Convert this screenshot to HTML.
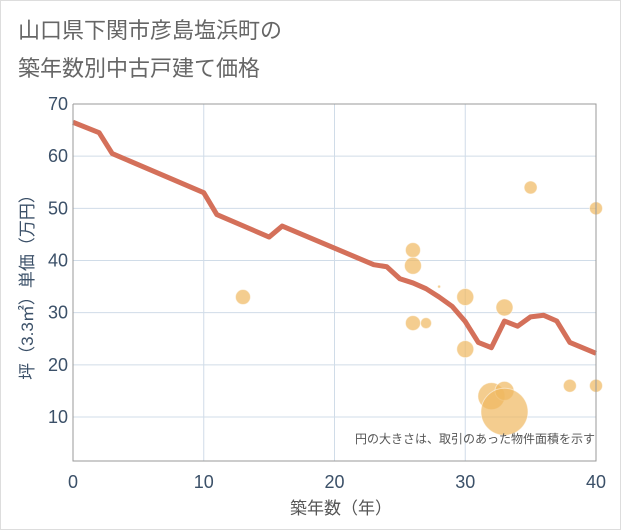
<!DOCTYPE html>
<html><head><meta charset="utf-8"><style>
body{margin:0;background:#fff}
svg{display:block;font-family:"Liberation Sans","Noto Sans CJK JP",sans-serif}
</style></head><body>
<svg width="621" height="530">
<rect x="0.5" y="0.5" width="620" height="529" fill="#fff" stroke="#ddd"/>
<text x="18" y="38" font-size="22" fill="#666">山口県下関市彦島塩浜町の</text>
<text x="18" y="76" font-size="22" fill="#666">築年数別中古戸建て価格</text>
<g id="grid"></g>
<g id="bubbles"></g>
<path id="line" fill="none" stroke="#d4705a" stroke-width="5" stroke-linejoin="round"/>
<g id="axes"></g>
<text x="595" y="443" font-size="12" fill="#555" text-anchor="end">円の大きさは、取引のあった物件面積を示す</text>
<text x="341" y="514" font-size="17" fill="#555" text-anchor="middle">築年数（年）</text>
<text transform="translate(33,283) rotate(-90)" font-size="17" fill="#3b5068" text-anchor="middle">坪（3.3㎡）単価（万円）</text>
</svg>
<script>
const xTicks=[0,10,20,30,40];
const yTicks=[10,20,30,40,50,60,70];
const lineAges=[0,2,3,10,11,15,16,23,24,25,26,27,28,29,30,31,32,33,34,35,36,37,38,40];
const linePrices=[66.5,64.5,60.5,53,48.8,44.5,46.6,39.2,38.8,36.5,35.7,34.6,33,31.2,28.3,24.3,23.3,28.4,27.4,29.2,29.5,28.4,24.3,22.2];
const bubbleAges=[13,26,26,26,27,28,30,30,33,35,40,32,33,33,38,40];
const bubblePrices=[33,42,39,28,28,35,33,23,31,54,50,14,15,11,16,16];
const bubbleSizes=[7,7,8,7,5,1,8,8,8,6,6,13,9,23,6,6];
const NS="http://www.w3.org/2000/svg";
const X0=73,X1=596,YT=104,YB=461;
const xs=v=>X0+(X1-X0)*v/40;
const ys=v=>417-(v-10)*(417-104)/60;
function mk(t,a,p){const e=document.createElementNS(NS,t);for(const k in a)e.setAttribute(k,a[k]);p.appendChild(e);return e;}
const g=document.getElementById('grid'),ax=document.getElementById('axes'),bg=document.getElementById('bubbles');
xTicks.forEach(v=>{
 const l=mk('line',{x1:xs(v),x2:xs(v),y1:YT,y2:YB,stroke:'#d0dce8','stroke-width':1},g);
 
 
 const t=mk('text',{x:xs(v),y:488,'font-size':18,fill:'#3b5068','text-anchor':'middle'},ax);
 t.textContent=v;
 
 
});
yTicks.forEach(v=>{
 const l=mk('line',{x1:X0,x2:X1,y1:ys(v),y2:ys(v),stroke:'#d0dce8','stroke-width':1},g);
 
 
 const t=mk('text',{x:68,y:ys(v)+6,'font-size':18,fill:'#3b5068','text-anchor':'end'},ax);
 t.textContent=v;
 
 
});
const fr=mk('path',{d:`M${X0},${YT}V${YB}H${X1}V${YT}H${X0}`,fill:'none',stroke:'#999','stroke-width':1},ax);


bubbleAges.forEach((a,i)=>{
 const c=mk('circle',{cx:xs(a),cy:ys(bubblePrices[i]),r:bubbleSizes[i]+0.5,fill:'#f0b860','fill-opacity':0.7,stroke:'#fff','stroke-opacity':0.5},bg);
 
 
});
document.getElementById('line').setAttribute('d',lineAges.map((a,i)=>(i?'L':'M')+xs(a)+','+ys(linePrices[i])).join(''));
</script>
</body></html>
